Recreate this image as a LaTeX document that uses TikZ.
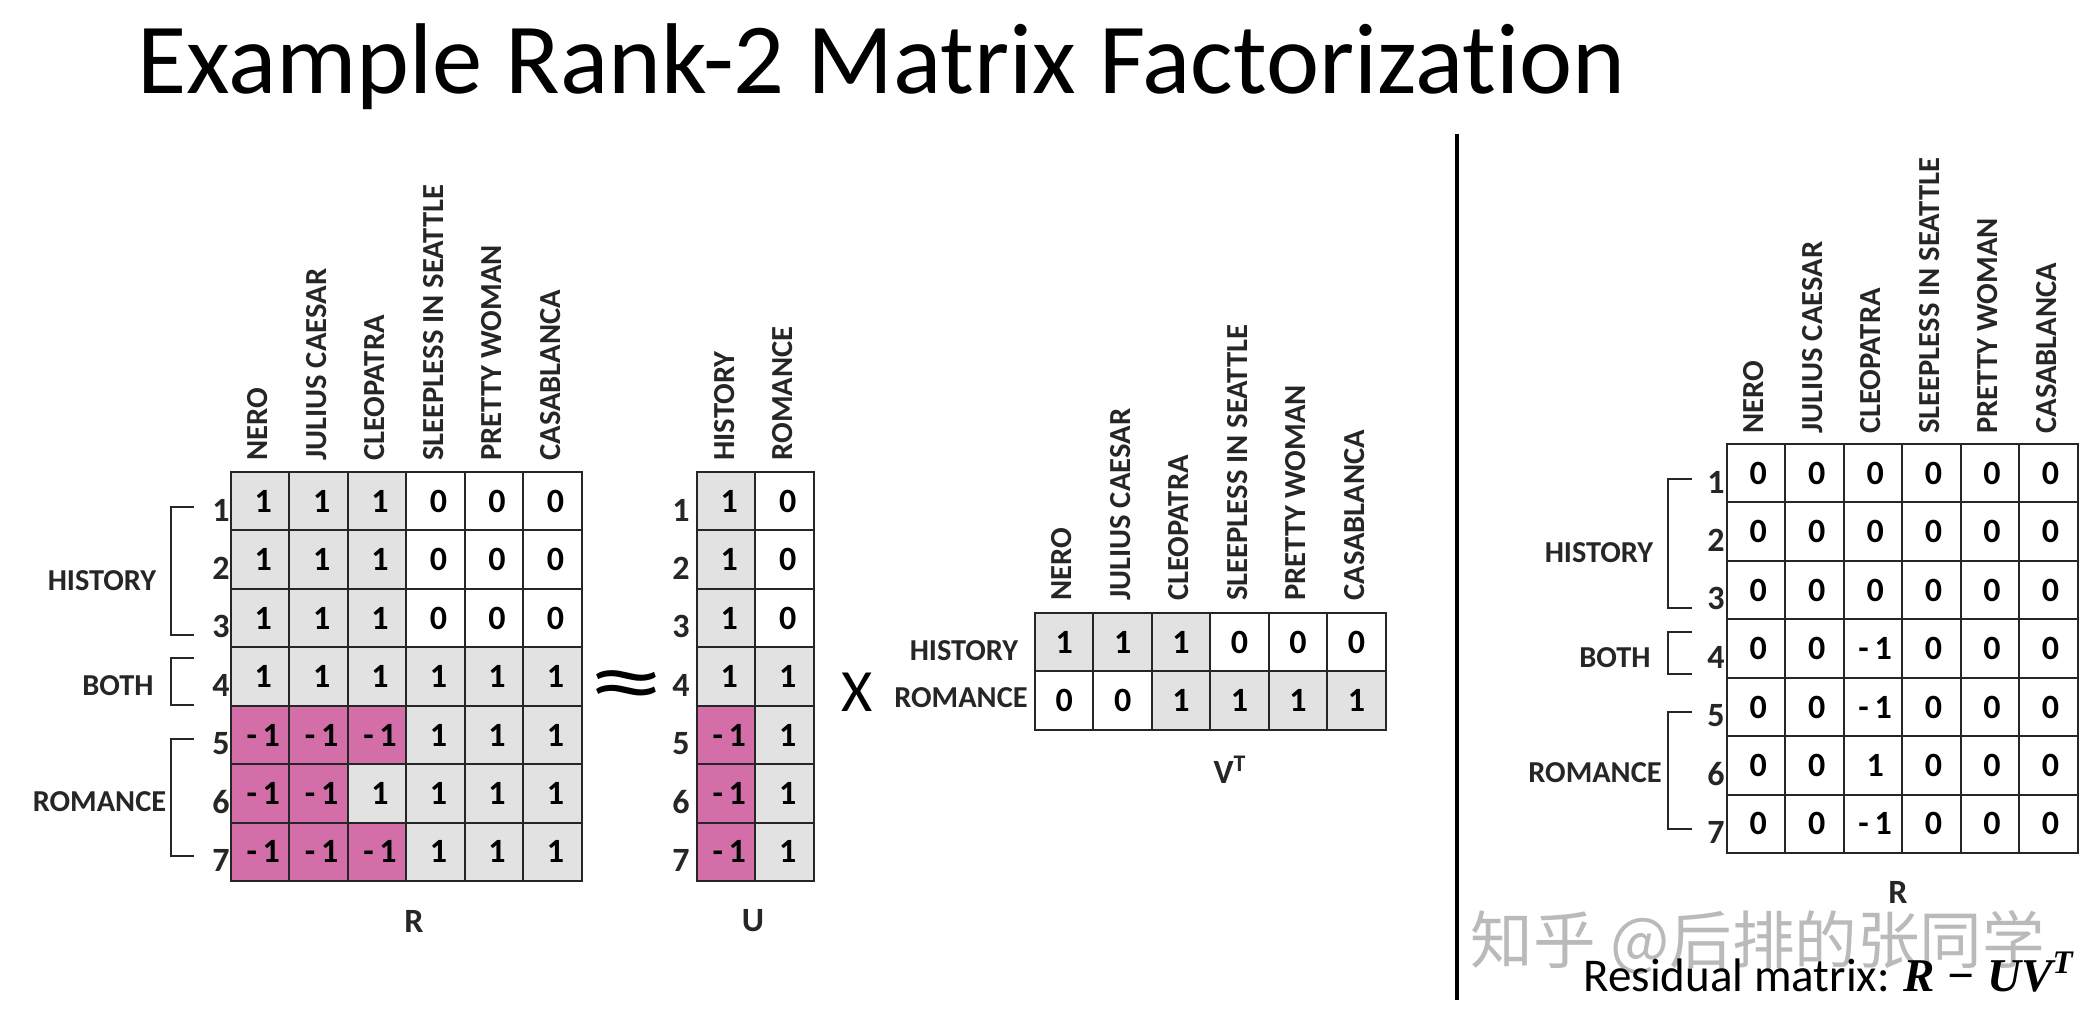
\documentclass[tikz,border=0pt]{standalone}
\usepackage{fontspec}
\setmainfont{Carlito}[Ligatures=NoCommon]
\newfontfamily\cjk{Noto Sans CJK SC}
\newfontfamily\formula{Liberation Serif}
\usetikzlibrary{calc}
\definecolor{cellgray}{RGB}{226, 226, 226}
\definecolor{cellpink}{RGB}{211, 110, 168}
\definecolor{markgray}{RGB}{186, 186, 186}
\tikzset{
  cell/.style={draw=black!85, line width=1pt, minimum size=29.25pt, inner sep=0pt, font=\fontsize{17}{18}\selectfont\bfseries},
  wh/.style={fill=white},
  gr/.style={fill=cellgray},
  pk/.style={fill=cellpink},
  collabel/.style={rotate=90, anchor=west, inner sep=0pt, font=\fontsize{15.3}{16}\selectfont\bfseries, text=black!85},
  rownum/.style={inner sep=0pt, font=\fontsize{17}{18}\selectfont\bfseries, text=black!85},
  grouplabel/.style={inner sep=0pt, font=\fontsize{15.2}{16}\selectfont\bfseries, text=black!85},
  gridname/.style={inner sep=0pt, font=\fontsize{17}{18}\selectfont\bfseries, text=black!85},
  bracket/.style={draw=black!85, line width=0.8pt},
}
% cell grid: name, left, top, digit nudge, rows
\newcommand{\cellgrid}[5]{
  \foreach \row [count=\j from 0] in {#5} {
    \foreach \c/\v [count=\i from 0] in \row {
      \node[cell,\c] (#1-\j-\i) at ({#2+58.45*\i+29.2},{#3+58.45*\j+29.2}) {\kern#4pt\v};
    }
  }
}
\begin{document}
\begin{tikzpicture}[x=0.5pt,y=-0.5pt]
\useasboundingbox (0,0) rectangle (2094,1020);
\fill[white] (0,0) rectangle (2094,1020);

\node[anchor=base west, inner sep=0pt, font=\fontsize{50.3}{56}\selectfont] (title) at (137,94) {Example Rank-2 Matrix Factorization};

% R matrix
\cellgrid{rm}{231}{472}{3}{
  {gr/1,gr/1,gr/1,wh/0,wh/0,wh/0},
  {gr/1,gr/1,gr/1,wh/0,wh/0,wh/0},
  {gr/1,gr/1,gr/1,wh/0,wh/0,wh/0},
  {gr/1,gr/1,gr/1,gr/1,gr/1,gr/1},
  {pk/-\,1,pk/-\,1,pk/-\,1,gr/1,gr/1,gr/1},
  {pk/-\,1,pk/-\,1,gr/1,gr/1,gr/1,gr/1},
  {pk/-\,1,pk/-\,1,pk/-\,1,gr/1,gr/1,gr/1}}
\foreach \t [count=\i from 0] in {NERO,JULIUS CAESAR,CLEOPATRA,SLEEPLESS IN SEATTLE,PRETTY WOMAN,CASABLANCA} {
  \node[collabel] (rmt\i) at ({231+58.45*\i+27},461) {\t};
}
\foreach \i in {1,...,7} {
  \node[rownum] (rmn\i) at (221,{501+58.45*(\i-1)+9}) {\i};
}
\draw[bracket] (194,507) -- (171,507) -- (171,635) -- (194,635);
\draw[bracket] (194,658) -- (171,658) -- (171,705) -- (194,705);
\draw[bracket] (194,739) -- (171,739) -- (171,856) -- (194,856);
\node[grouplabel] (rmhist) at (102,581) {HISTORY};
\node[grouplabel] (rmboth) at (118,686) {BOTH};
\node[grouplabel] (rmrom) at (99.5,802) {ROMANCE};
\node[gridname] (rmname) at (414,921) {R};

\node[inner sep=0pt, font=\fontsize{46}{50}\selectfont] (approx) at (626,692) {\scalebox{1.7}[1]{≈}};

% U matrix
\cellgrid{um}{697}{472}{3}{
  {gr/1,wh/0},{gr/1,wh/0},{gr/1,wh/0},{gr/1,gr/1},
  {pk/-\,1,gr/1},{pk/-\,1,gr/1},{pk/-\,1,gr/1}}
\node[collabel] (umt0) at (725,461) {HISTORY};
\node[collabel] (umt1) at (783,461) {ROMANCE};
\foreach \i in {1,...,7} {
  \node[rownum] (umn\i) at (681,{501+58.45*(\i-1)+9}) {\i};
}
\node[gridname] (umname) at (753,921) {U};

\node[inner sep=0pt, font=\fontsize{30}{32}\selectfont] (times) at (857,692) {X};

% V matrix
\cellgrid{vm}{1035}{613}{0}{
  {gr/1,gr/1,gr/1,wh/0,wh/0,wh/0},
  {wh/0,wh/0,gr/1,gr/1,gr/1,gr/1}}
\foreach \t [count=\i from 0] in {NERO,JULIUS CAESAR,CLEOPATRA,SLEEPLESS IN SEATTLE,PRETTY WOMAN,CASABLANCA} {
  \node[collabel] (vmt\i) at ({1035+58.45*\i+27},601) {\t};
}
\node[grouplabel] (vmhist) at (964,651) {HISTORY};
\node[grouplabel] (vmrom) at (961,698) {ROMANCE};
\node[gridname] (vmname) at (1230,770) {V\textsuperscript{T}};

% divider
\draw[line width=1.7pt] (1457,134) -- (1457,1000);

% residual matrix
\cellgrid{em}{1727}{444}{2}{
  {wh/0,wh/0,wh/0,wh/0,wh/0,wh/0},
  {wh/0,wh/0,wh/0,wh/0,wh/0,wh/0},
  {wh/0,wh/0,wh/0,wh/0,wh/0,wh/0},
  {wh/0,wh/0,wh/-\,1,wh/0,wh/0,wh/0},
  {wh/0,wh/0,wh/-\,1,wh/0,wh/0,wh/0},
  {wh/0,wh/0,wh/1,wh/0,wh/0,wh/0},
  {wh/0,wh/0,wh/-\,1,wh/0,wh/0,wh/0}}
\foreach \t [count=\i from 0] in {NERO,JULIUS CAESAR,CLEOPATRA,SLEEPLESS IN SEATTLE,PRETTY WOMAN,CASABLANCA} {
  \node[collabel] (emt\i) at ({1727+58.45*\i+27},434) {\t};
}
\foreach \i in {1,...,7} {
  \node[rownum] (emn\i) at (1716,{473+58.45*(\i-1)+9}) {\i};
}
\draw[bracket] (1692,479) -- (1668,479) -- (1668,608) -- (1692,608);
\draw[bracket] (1692,632) -- (1668,632) -- (1668,674) -- (1692,674);
\draw[bracket] (1692,712) -- (1668,712) -- (1668,829) -- (1692,829);
\node[grouplabel] (emhist) at (1599,553) {HISTORY};
\node[grouplabel] (emboth) at (1615,658) {BOTH};
\node[grouplabel] (emrom) at (1595,773) {ROMANCE};
\node[gridname] (emname) at (1898,892) {R};

% watermark and caption
\node[inner sep=0pt, text=markgray, font=\fontsize{31.3}{33}\selectfont\cjk] (mark) at (1758,942) {知乎 @后排的张同学};
\node[anchor=east, inner sep=0pt, font=\fontsize{23.5}{26}\selectfont] (resid) at (2074,972) {Residual matrix: {\formula\bfseries\itshape R − UV\textsuperscript{T}}};
\end{tikzpicture}
\end{document}
